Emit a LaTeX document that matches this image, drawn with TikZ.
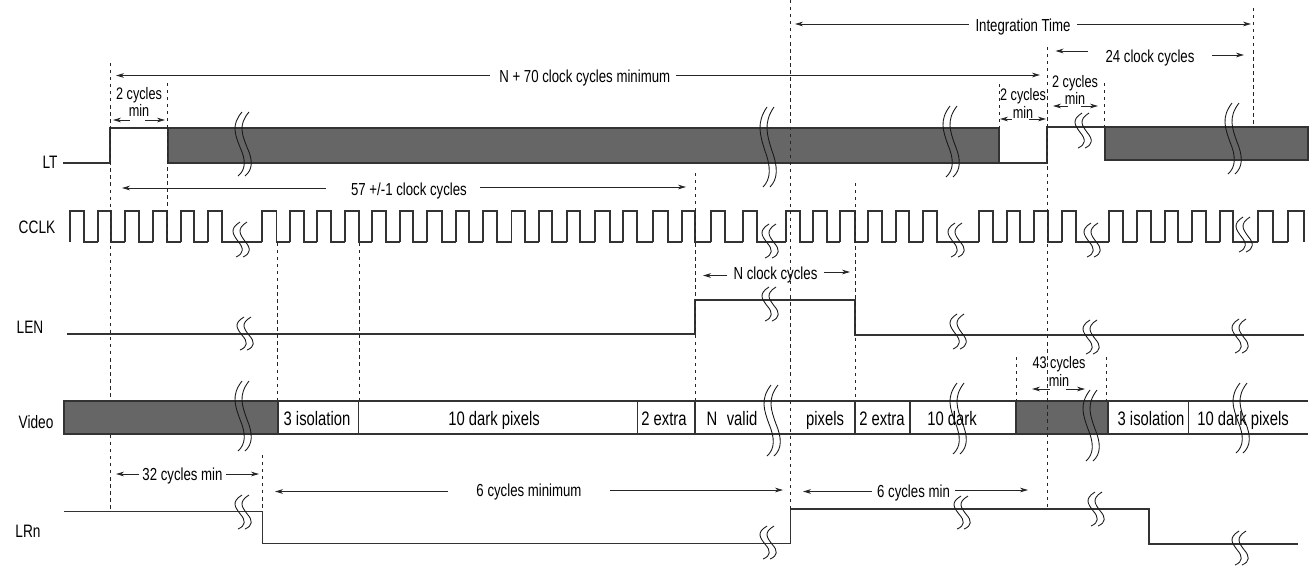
\documentclass[tikz,border=0pt]{standalone}
\usepackage{fontspec}
\setmainfont[FakeStretch=0.76]{Liberation Sans}
\usepackage{xcolor}
\usetikzlibrary{positioning, arrows.meta}

\definecolor{barfill}{HTML}{666666}
\definecolor{inkline}{HTML}{333333}

\tikzset{
	wave/.style={draw=inkline, line width=0.65pt, line join=miter},
	guide/.style={draw=black!85, line width=0.55pt, dash pattern=on 1.9pt off 2.1pt},
	spanline/.style={draw=black!85, line width=0.5pt, -{Stealth[length=4.6pt,width=2.7pt]}},
	breakline/.style={draw=black!90, line width=0.5pt},
	greybar/.style={wave, fill=barfill},
	siglabel/.style={inner sep=0pt, text height=7.4pt, text depth=0pt, font=\fontsize{10.25}{10}\selectfont},
	cell/.style={inner sep=0pt, text height=8pt, text depth=0pt, font=\fontsize{11.1}{11}\selectfont},
	spanlabel/.style={inner sep=0pt, text height=7.1pt, text depth=0pt, font=\fontsize{9.9}{10}\selectfont},
	minlabel/.style={inner sep=0pt, align=center, font=\fontsize{9.5}{8.5}\selectfont}
}

\begin{document}
\begin{tikzpicture}[x=0.02cm, y=-0.02cm]
	\useasboundingbox (0,0) rectangle (1310,569);

	% signal names
	\node[siglabel] (LT) at (50,162) {LT};
	\node[siglabel] (CCLK) at (37,227) {CCLK};
	\node[siglabel] (LEN) at (30,327) {LEN};
	\node[siglabel] (Video) at (36,422) {Video};
	\node[siglabel] (LRn) at (28,531) {LRn};

	% LT
	\draw[wave] (63,163) -- (110,163) -- (110,128) -- (167,128);
	\draw[greybar] (168,128) rectangle (999,163);
	\draw[wave] (999,163) -- (1047,163) -- (1047,127) -- (1105,127);
	\draw[greybar] (1105,127) rectangle (1308,160);

	% CCLK
	\foreach \up/\dn/\nxt in {70/84/98, 98/111/125, 125/139/153, 153/167/181, 181/194/208, 208/222/262,
			262/276.5/290, 290/304/317, 317/331/345, 345/359/372, 372/386/400, 400/413/427, 427/442/456,
			456/469/483, 483/497/511.5, 511.5/525/539, 539/552/567, 567/580/595, 595/610/623, 623/637/653,
			653/668/682, 682/695/711, 711/725/743, 743/757/786, 786/800/813, 813/827/840, 840/855/868,
			868/882/896, 896/909/923, 923/937/979, 979/993/1007, 1007/1020/1034, 1034/1048/1062,
			1062/1076/1109, 1109/1123/1137, 1137/1151/1165, 1165/1178/1192, 1192/1206/1220,
			1220/1233/1258, 1258/1273/1288, 1288/1304/1304}
		\draw[wave] (\up,242) -- (\up,211) -- (\dn,211) -- (\dn,242) -- (\nxt,242);

	% LEN
	\draw[wave] (67,334) -- (695,334) -- (695,300) -- (855,300) -- (855,335) -- (1304,335);

	% Video
	\draw[wave] (278,401) -- (1308,401);
	\draw[wave] (278,434) -- (1308,434);
	\draw[greybar] (64,401) rectangle (278,434);
	\draw[greybar] (1016,401) rectangle (1108,434);
	\foreach \sx in {358.5, 637.5, 695, 855, 910, 1188.5}
		\draw[wave] (\sx,401) -- (\sx,434);
	\node[cell] (iso1) at (317,418) {3 isolation};
	\node[cell] (dark1) at (494,418) {10 dark pixels};
	\node[cell] (extra1) at (664,418) {2 extra};
	\node[cell] (valid) at (732,418) {N\hspace{3pt} valid};
	\node[cell] (pixels) at (825,418) {pixels};
	\node[cell] (extra2) at (882,418) {2 extra};
	\node[cell] (dark2) at (952,418) {10 dark};
	\node[cell] (iso2) at (1151,418) {3 isolation};
	\node[cell] (dark3) at (1243,418) {10 dark pixels};

	% LRn
	\draw[wave] (64,511.5) -- (262.5,511.5) -- (262.5,543.5) -- (790.5,543.5) -- (790.5,509) -- (1149,509) -- (1149,544) -- (1298,544);

	% dashed guides
	\foreach \gx/\gtop/\gbot in {110/63/400, 110/435/509, 167/83/241, 277/243/400, 359.5/243/400, 262/455/511,
			695/173/400, 855/183/400, 790.5/0/509, 999/84/128, 1047/47/507, 1104.5/83/127, 1253.5/8/126,
			1016/357/401, 1106/357/401}
		\draw[guide] (\gx,\gtop) -- (\gx,\gbot);

	% breaks in the time axis
	\foreach \bx/\by/\bh in {234/112/64, 759/107/80, 942/106/71, 1074/113/35, 1224/103/71,
			232/222/35, 761/224/34, 947/223/34, 1083/223/34, 1235/217/35,
			236/317/33, 761/287/34, 949/314/35, 1082/320/34, 1231/319/34,
			234/381/70, 763/385/71, 949/383/71, 1082/390/71, 1232/383/70,
			234/495/34, 759/526/33, 953/496/33, 1087/492/34, 1231/531/34}
		\foreach \dx in {0,7}
			\draw[breakline] (\bx+\dx+8,\by) .. controls (\bx+\dx-3,\by+0.2*\bh) and (\bx+\dx+1,\by+0.35*\bh) .. (\bx+\dx+6,\by+0.55*\bh)
				.. controls (\bx+\dx+12,\by+0.75*\bh) and (\bx+\dx+12,\by+0.9*\bh) .. (\bx+\dx+4,\by+\bh);

	% spans with the label in the line
	\node[spanlabel, minimum width=108*0.02cm] (tInt) at (1023,25) {Integration Time};
	\coordinate (intL) at (795,24);
	\coordinate (intR) at (1251,24);
	\draw[spanline] (tInt.west |- intL) -- (intL);
	\draw[spanline] (tInt.east |- intR) -- (intR);

	\node[spanlabel, minimum width=124*0.02cm] (tClk) at (1150,56) {24 clock cycles};
	\coordinate (clkL) at (1055.5,51);
	\coordinate (clkR) at (1244,55);
	\draw[spanline] (tClk.west |- clkL) -- (clkL);
	\draw[spanline] (tClk.east |- clkR) -- (clkR);

	\node[spanlabel, minimum width=185*0.02cm] (tMin) at (583,76) {\hspace{2pt}N + 70 clock cycles minimum};
	\coordinate (minL) at (116,75.5);
	\coordinate (minR) at (1040,75);
	\draw[spanline] (tMin.west |- minL) -- (minL);
	\draw[spanline] (tMin.east |- minR) -- (minR);

	\node[spanlabel, minimum width=154*0.02cm] (tLat) at (403,189) {\hspace{6.8pt}57 +/-1 clock cycles};
	\coordinate (latL) at (122,188);
	\coordinate (latR) at (686,187);
	\draw[spanline] (tLat.west |- latL) -- (latL);
	\draw[spanline] (tLat.east |- latR) -- (latR);

	\node[spanlabel, minimum width=96*0.02cm] (tN) at (775.5,273) {N clock cycles};
	\coordinate (nL) at (703,275.5);
	\coordinate (nR) at (850,272);
	\draw[spanline] (tN.west |- nL) -- (nL);
	\draw[spanline] (tN.east |- nR) -- (nR);

	\node[spanlabel, minimum width=87*0.02cm] (t32) at (182.5,474) {32 cycles min};
	\coordinate (tdL) at (116,474);
	\coordinate (tdR) at (259,474);
	\draw[spanline] (t32.west |- tdL) -- (tdL);
	\draw[spanline] (t32.east |- tdR) -- (tdR);

	\node[spanlabel, minimum width=162*0.02cm] (tSix) at (529,490) {6 cycles minimum\hspace{4.5pt}};
	\coordinate (sixL) at (275,491.5);
	\coordinate (sixR) at (783,490);
	\draw[spanline] (tSix.west |- sixL) -- (sixL);
	\draw[spanline] (tSix.east |- sixR) -- (sixR);

	\node[spanlabel, minimum width=83*0.02cm] (tHold) at (913.5,491.5) {6 cycles min};
	\coordinate (holdL) at (803,491.5);
	\coordinate (holdR) at (1028,490);
	\draw[spanline] (tHold.west |- holdL) -- (holdL);
	\draw[spanline] (tHold.east |- holdR) -- (holdR);

	% spans with the label above the line
	\node[minlabel] (mA) at (139,102) {2 cycles\\min};
	\coordinate (mAl) at (113,120);
	\coordinate (mAr) at (165,120);
	\draw[spanline] (130,120) -- (mAl);
	\draw[spanline] (145,120) -- (mAr);

	\node[minlabel] (mB) at (1023,103.5) {2 cycles\\min};
	\coordinate (mBl) at (1000,119);
	\coordinate (mBr) at (1046,119);
	\draw[spanline] (1012,119) -- (mBl);
	\draw[spanline] (1029,119) -- (mBr);

	\node[minlabel] (mC) at (1075,90) {2 cycles\\min};
	\coordinate (mCl) at (1053,106);
	\coordinate (mCr) at (1098,106);
	\draw[spanline] (1068,106) -- (mCl);
	\draw[spanline] (1081,106) -- (mCr);

	\node[minlabel] (mD) at (1059,371.5) {43 cycles\\min};
	\coordinate (mDl) at (1032,389);
	\coordinate (mDr) at (1085,389);
	\draw[spanline] (1050,389) -- (mDl);
	\draw[spanline] (1066,389) -- (mDr);
\end{tikzpicture}
\end{document}
